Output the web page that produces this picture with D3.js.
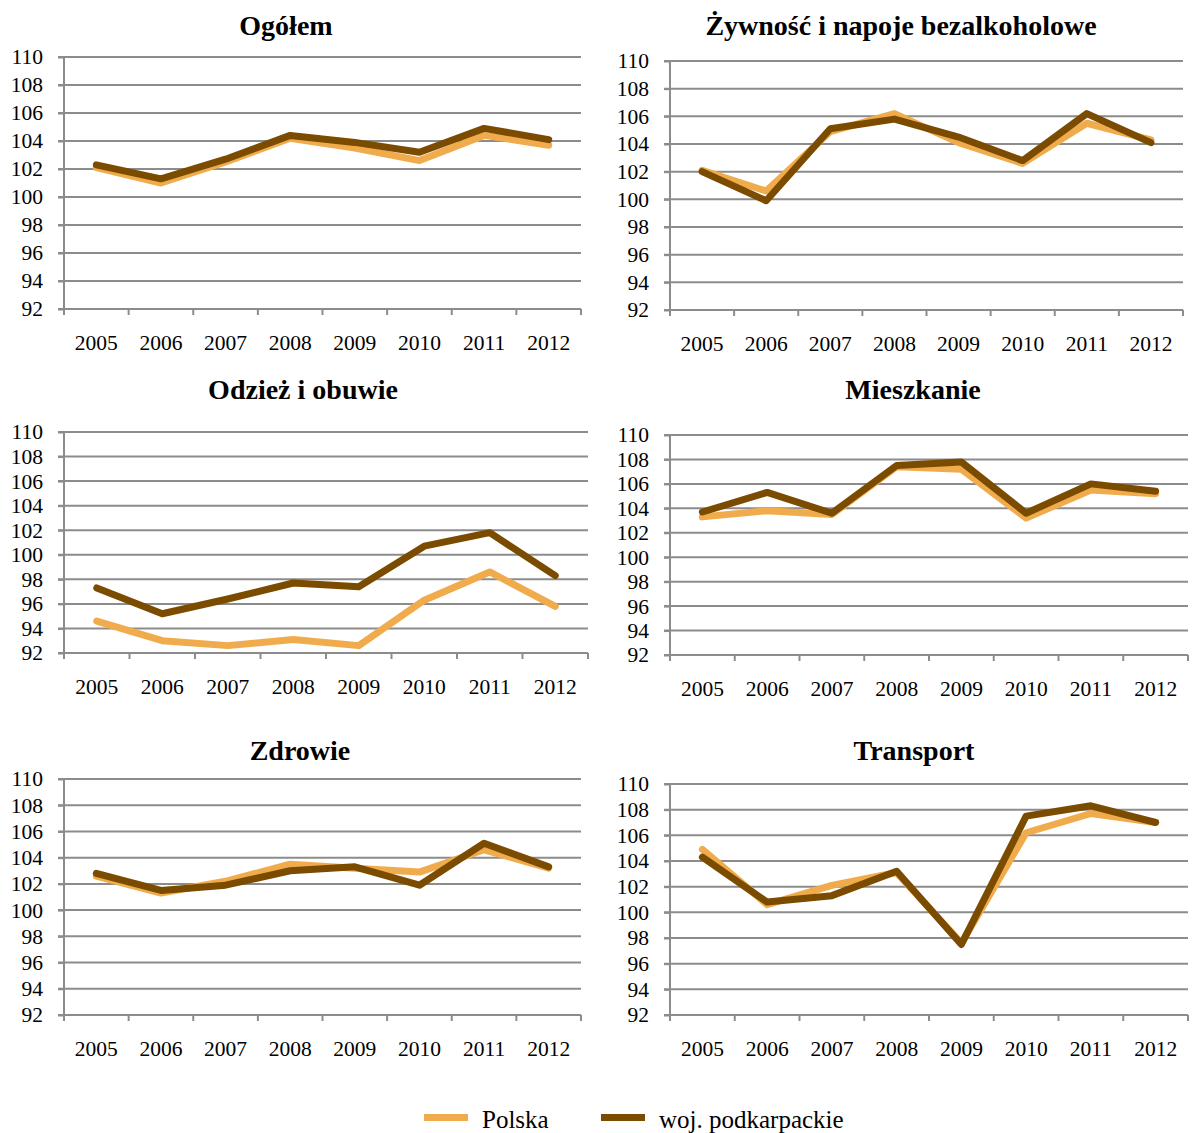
<!DOCTYPE html>
<html>
<head>
<meta charset="utf-8">
<script src="https://cdn.jsdelivr.net/npm/d3@7"></script>
<style>
  body { margin: 0; background: #fff; }
  svg { display: block; font-family: "Liberation Serif", "Times New Roman", serif; }
  .grid line { stroke: #8c8c8c; stroke-width: 2; }
  .axis path, .axis line { stroke: #8c8c8c; stroke-width: 2; }
  .axis text { fill: #000; font-size: 21.5px; }
  .title { font-weight: bold; font-size: 28px; text-anchor: middle; }
</style>
</head>
<body>
<div id="app"></div>
<script>
// data
const years = ['2005', '2006', '2007', '2008', '2009', '2010', '2011', '2012']
const yTicks = [92, 94, 96, 98, 100, 102, 104, 106, 108, 110]
const seriesNames = ['Polska', 'woj. podkarpackie']
const titles = ['Ogółem', 'Żywność i napoje bezalkoholowe', 'Odzież i obuwie', 'Mieszkanie', 'Zdrowie', 'Transport']

const polska = [
    [102.1, 101.0, 102.5, 104.2, 103.5, 102.6, 104.4, 103.7],
    [102.1, 100.6, 104.9, 106.2, 104.1, 102.6, 105.5, 104.3],
    [94.6, 93.0, 92.6, 93.1, 92.6, 96.3, 98.6, 95.8],
    [103.3, 103.8, 103.5, 107.4, 107.2, 103.2, 105.5, 105.2],
    [102.6, 101.3, 102.2, 103.5, 103.2, 102.9, 104.6, 103.2],
    [104.9, 100.6, 102.1, 103.1, 97.6, 106.2, 107.7, 107.0],
]
const podkarpackie = [
    [102.3, 101.3, 102.7, 104.4, 103.9, 103.2, 104.9, 104.1],
    [102.0, 99.9, 105.1, 105.8, 104.5, 102.8, 106.2, 104.1],
    [97.3, 95.2, 96.4, 97.7, 97.4, 100.7, 101.8, 98.3],
    [103.7, 105.3, 103.6, 107.5, 107.8, 103.6, 106.0, 105.4],
    [102.8, 101.5, 101.9, 103.0, 103.3, 101.9, 105.1, 103.3],
    [104.3, 100.8, 101.3, 103.2, 97.5, 107.5, 108.3, 107.0],
]

const COLORS = ['#f0ac4c', '#7b4b00']
const W = 1192, H = 1133

// plot boxes for the six panels (left, right, top, bottom) and title centres
const boxes = [
    { l: 64, r: 581, t: 57, b: 309, tx: 286, ty: 35 },
    { l: 670, r: 1183, t: 61, b: 310, tx: 901, ty: 35 },
    { l: 64, r: 588, t: 432, b: 653, tx: 303, ty: 399 },
    { l: 670, r: 1188, t: 435, b: 655, tx: 913, ty: 399 },
    { l: 64, r: 581, t: 779, b: 1015, tx: 300, ty: 760 },
    { l: 670, r: 1188, t: 784, b: 1015, tx: 914, ty: 760 },
]

const svg = d3.select('#app').append('svg')
    .attr('width', W)
    .attr('height', H)

boxes.forEach((box, i) => {
    const x = d3.scaleBand().domain(years).range([box.l, box.r])
    const y = d3.scaleLinear().domain([92, 110]).range([box.b, box.t])

    svg.append('text').attr('class', 'title')
        .attr('x', box.tx).attr('y', box.ty)
        .text(titles[i])

    // horizontal grid lines, these stick out left like Excel tick marks
    svg.append('g').attr('class', 'grid')
        .selectAll('line').data(yTicks).join('line')
        .attr('x1', box.l - 6).attr('x2', box.r)
        .attr('y1', d => y(d)).attr('y2', d => y(d))

    const yAxis = svg.append('g').attr('class', 'axis')
        .attr('transform', `translate(${box.l},0)`)
        .call(d3.axisLeft(y).tickValues(yTicks).tickSize(6).tickPadding(15).tickFormat(d3.format('d')))
        .attr('font-family', null)
    yAxis.select('.domain').attr('d', `M0,${box.b}V${box.t}`)

    // x axis: ticks sit between categories
    const xAxis = svg.append('g').attr('class', 'axis')
        .attr('transform', `translate(0,${box.b})`)
        .call(d3.axisBottom(x).tickSize(0).tickPadding(26))
        .attr('font-family', null)
    xAxis.select('.domain').attr('d', `M${box.l},0H${box.r}`)
    xAxis.selectAll('.sep').data(d3.range(years.length + 1)).join('line')
        .attr('class', 'sep')
        .attr('x1', k => box.l + k * x.step()).attr('x2', k => box.l + k * x.step())
        .attr('y1', 0).attr('y2', 6)

    const line = d3.line()
        .x((d, k) => x(years[k]) + x.bandwidth() / 2)
        .y(d => y(d))

    ;[polska[i], podkarpackie[i]].forEach((vals, s) => {
        svg.append('path')
            .attr('d', line(vals))
            .attr('fill', 'none')
            .attr('stroke', COLORS[s])
            .attr('stroke-width', 7)
            .attr('stroke-linejoin', 'round')
            .attr('stroke-linecap', 'round')
    })
})

// legend at the bottom
const legendX = [424, 601]
const legend = svg.append('g')
seriesNames.forEach((name, s) => {
    legend.append('rect')
        .attr('x', legendX[s]).attr('y', 1114)
        .attr('width', 44).attr('height', 7)
        .attr('fill', COLORS[s])
    legend.append('text')
        .attr('x', legendX[s] + 58).attr('y', 1128)
        .attr('font-size', 25)
        .text(name)
})
</script>
</body>
</html>
